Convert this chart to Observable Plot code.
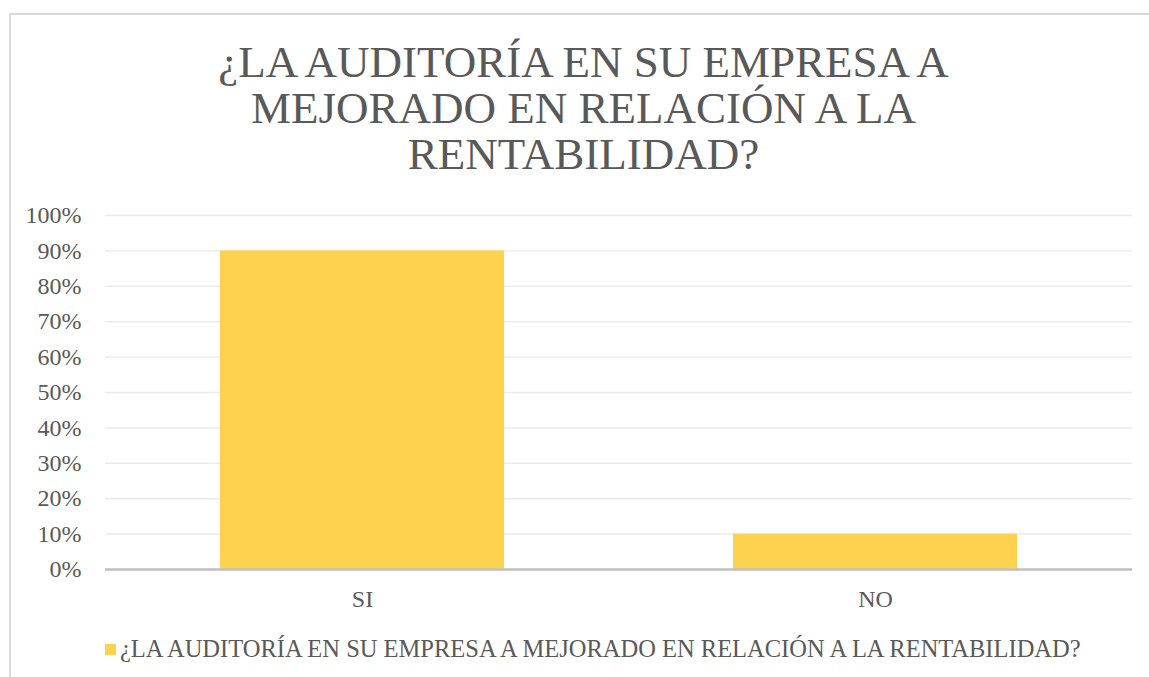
<!DOCTYPE html>
<html>
<head>
<meta charset="utf-8">
<script src="https://cdn.jsdelivr.net/npm/d3@7"></script>
<script src="https://cdn.jsdelivr.net/npm/@observablehq/plot@0.6"></script>
<style>
  html, body { margin: 0; padding: 0; background: #fff; }
  body { width: 1149px; height: 677px; position: relative; overflow: hidden; color: #595959; }
  #frame { position: absolute; left: 9px; top: 13px; width: 1160px; height: 700px; border-top: 2px solid #d9d9d9; border-left: 2px solid #d9d9d9; box-sizing: border-box; }
  #title { position: absolute; left: 9px; width: 1149px; top: 39px; text-align: center; font-size: 45px; line-height: 46px; color: #595959; }
  #chart { position: absolute; left: 0; top: 195px; }
  #legend { position: absolute; left: 105px; top: 633px; font-size: 24.5px; line-height: 32px; display: flex; align-items: center; white-space: nowrap; }
  #legend .sw { width: 11px; height: 11px; background: #FED14F; margin-right: 4px; display: inline-block; }
</style>
</head>
<body>
<div id="frame"></div>
<div id="title" style="font-family: 'Liberation Serif'"></div>
<div id="chart"></div>
<div id="legend" style="font-family: 'Liberation Serif'"></div>
<script>
const titleLines = ["¿LA AUDITORÍA EN SU EMPRESA A", "MEJORADO EN RELACIÓN A LA", "RENTABILIDAD?"];
const seriesName = "¿LA AUDITORÍA EN SU EMPRESA A MEJORADO EN RELACIÓN A LA RENTABILIDAD?";
const categories = ["SI", "NO"];
const values = [0.90, 0.10];
const yTicks = [0, 0.1, 0.2, 0.3, 0.4, 0.5, 0.6, 0.7, 0.8, 0.9, 1.0];

const data = categories.map((c, i) => ({category: c, value: values[i]}));

document.getElementById("title").innerHTML = titleLines.join("<br>");
const lg = document.getElementById("legend");
lg.innerHTML = '<span class="sw"></span><span></span>';
lg.lastChild.textContent = seriesName;

const FONT = "Liberation Serif";
const chart = Plot.plot({
  width: 1149,
  height: 420,
  marginLeft: 105,
  marginRight: 17,
  marginTop: 20,
  marginBottom: 46,
  style: {fontFamily: FONT, fontSize: "24px", color: "#595959", background: "transparent"},
  x: {domain: categories, paddingInner: 0.447, paddingOuter: 0.2235, label: null},
  y: {domain: [0, 1], ticks: yTicks, tickFormat: d => Math.round(d * 100) + "%", label: null},
  marks: [
    Plot.ruleY(yTicks.filter(d => d > 0), {stroke: "#ebebeb", strokeWidth: 1.5}),
    Plot.barY(data, {x: "category", y: "value", fill: "#FED14F"}),
    Plot.ruleY([0], {stroke: "#bfbfbf", strokeWidth: 2.5}),
    Plot.axisY({ticks: yTicks, tickSize: 0, tickPadding: 24, tickFormat: d => Math.round(d * 100) + "%", label: null, fill: "#595959", fontFamily: FONT, fontSize: 24}),
    Plot.axisX({tickSize: 0, tickPadding: 20, label: null, fill: "#595959", fontFamily: FONT, fontSize: 24})
  ]
});
document.getElementById("chart").appendChild(chart);
</script>
</body>
</html>
